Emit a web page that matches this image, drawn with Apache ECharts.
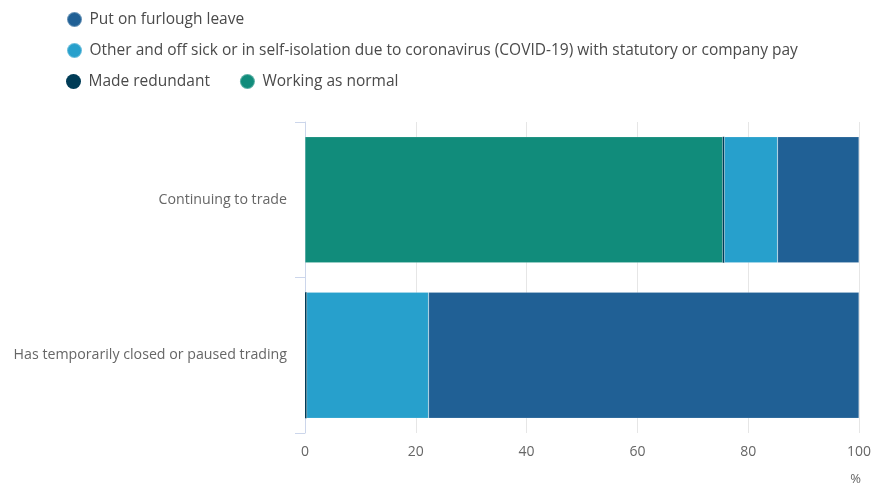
<!DOCTYPE html>
<html>
<head>
<meta charset="utf-8">
<script src="https://cdn.jsdelivr.net/npm/echarts@6/dist/echarts.min.js"></script>
<style>
  html, body { margin: 0; padding: 0; background: #fff; }
  #chart { width: 874px; height: 484px; }
</style>
</head>
<body>
<div id="chart"></div>
<script>
// categories and values (percent of workforce)
var categories = ['Continuing to trade', 'Has temporarily closed or paused trading'];
var working = [75.4, 0];
var redundant = [0.3, 0.3];
var other = [9.6, 22.0];
var furlough = [14.7, 77.7];
var xTicks = [0, 20, 40, 60, 80, 100];

var FONT = '"Open Sans", "Noto Sans", sans-serif';
var colors = {
    furlough: '#206095',
    other: '#27a0cc',
    redundant: '#003c57',
    working: '#118c7b'
};

var chart = echarts.init(document.getElementById('chart'));

// legend split in three rows like the original
function legendRow(top, names) {
    return {
        left: 61,
        top: top,
        icon: 'circle',
        itemWidth: 20,
        itemHeight: 15,
        itemGap: 29,
        symbolKeepAspect: true,
        data: names,
        textStyle: { color: '#4a4a4a', fontSize: 15.5, fontFamily: FONT },
        selectedMode: false
    };
}

function barSeries(name, data, color, border) {
    return {
        name: name,
        type: 'bar',
        stack: 'total',
        data: data,
        barCategoryGap: '19%',
        itemStyle: { color: color, borderColor: 'rgba(255,255,255,0.3)', borderWidth: border },
        emphasis: { disabled: true }
    };
}

var option = {
    animation: false,
    textStyle: { fontFamily: FONT },
    legend: [
        legendRow(6, ['Put on furlough leave']),
        legendRow(37, ['Other and off sick or in self-isolation due to coronavirus (COVID-19) with statutory or company pay']),
        legendRow(68, ['Made redundant', 'Working as normal'])
    ],
    grid: { left: 305, right: 12, top: 122, bottom: 51 },
    xAxis: {
        type: 'value',
        min: xTicks[0],
        max: xTicks[xTicks.length - 1],
        interval: 20,
        axisLine: { show: false },
        axisTick: { show: false },
        axisLabel: { color: '#666', fontSize: 14, margin: 12, fontFamily: FONT },
        splitLine: { lineStyle: { color: '#e6e6e6', width: 1 } }
    },
    yAxis: {
        type: 'category',
        data: categories,
        inverse: true,
        offset: 2,
        axisLine: { lineStyle: { color: '#ccd6eb', width: 1 } },
        axisTick: { show: true, length: 10, lineStyle: { color: '#ccd6eb' } },
        axisLabel: { color: '#666', fontSize: 14.2, margin: 16, fontFamily: FONT }
    },
    graphic: [{
        type: 'text',
        right: 13,
        top: 473,
        style: { text: '%', fill: '#666', fontSize: 13, fontFamily: FONT }
    }],
    series: [
        barSeries('Working as normal', working, colors.working, 0.5),
        barSeries('Made redundant', redundant, colors.redundant, 0),
        barSeries('Other and off sick or in self-isolation due to coronavirus (COVID-19) with statutory or company pay', other, colors.other, 0.5),
        barSeries('Put on furlough leave', furlough, colors.furlough, 0.5)
    ]
};

chart.setOption(option);
</script>
</body>
</html>
